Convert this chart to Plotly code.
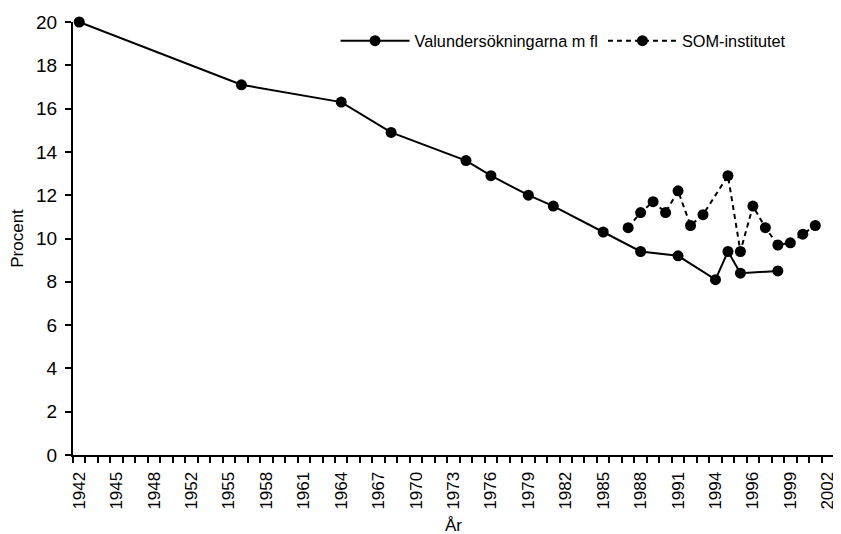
import plotly.graph_objects as go

# Category axis (one slot per survey year; labels shown every third slot)
categories = (
    [str(y) for y in range(1942, 1949)]
    + ["1950", "1951"]
    + [str(y) for y in range(1952, 1995)]
    + ["1994b"]
    + [str(y) for y in range(1995, 2003)]
)
shown_labels = ["1942", "1945", "1948", "1952", "1955", "1958", "1961", "1964", "1967",
                "1970", "1973", "1976", "1979", "1982", "1985", "1988", "1991", "1994",
                "1996", "1999", "2002"]

valu_years = ["1942", "1956", "1964", "1968", "1974", "1976", "1979", "1981", "1985",
              "1988", "1991", "1994", "1994b", "1995", "1998"]
valu_values = [20.0, 17.1, 16.3, 14.9, 13.6, 12.9, 12.0, 11.5, 10.3,
               9.4, 9.2, 8.1, 9.4, 8.4, 8.5]

som_years = ["1987", "1988", "1989", "1990", "1991", "1992", "1993", "1994b", "1995",
             "1996", "1997", "1998", "1999", "2000", "2001"]
som_values = [10.5, 11.2, 11.7, 11.2, 12.2, 10.6, 11.1, 12.9, 9.4,
              11.5, 10.5, 9.7, 9.8, 10.2, 10.6]

ticktext = [c if c in shown_labels else "" for c in categories]

FONT = "Liberation Sans, Arial, sans-serif"

fig = go.Figure()
fig.add_trace(go.Scatter(
    x=valu_years, y=valu_values, name="Valundersökningarna m fl",
    mode="lines+markers",
    line=dict(color="black", width=2),
    marker=dict(color="black", size=11),
    cliponaxis=False,
))
fig.add_trace(go.Scatter(
    x=som_years, y=som_values, name="SOM-institutet",
    mode="lines+markers",
    line=dict(color="black", width=2, dash="5px,4px"),
    marker=dict(color="black", size=11),
    cliponaxis=False,
))

# page body adds an 8px offset; figure size/margins compensate for it
fig.update_layout(
    width=833, height=526,
    margin=dict(l=65, r=7, t=14, b=79),
    paper_bgcolor="white", plot_bgcolor="white",
    font=dict(family=FONT, size=17, color="black"),
    showlegend=True,
    legend=dict(
        orientation="h", x=0.345, xanchor="left", y=0.956, yanchor="middle",
        bgcolor="rgba(0,0,0,0)", font=dict(size=16.3), itemwidth=69,
        tracegroupgap=0,
    ),
    annotations=[dict(
        text="År", xref="paper", yref="paper", x=0.5, y=-0.163,
        xanchor="center", yanchor="middle", showarrow=False,
        font=dict(size=17),
    )],
)
fig.update_xaxes(
    type="category", categoryorder="array", categoryarray=categories,
    range=[-0.5, len(categories) - 0.5],
    tickmode="array", tickvals=categories, ticktext=ticktext,
    tickson="boundaries", ticks="outside", ticklen=6, tickwidth=2, tickcolor="black",
    tickangle=-90, tickfont=dict(size=17), ticklabelstandoff=8,
    showline=True, linecolor="black", linewidth=2,
    showgrid=False, zeroline=False, automargin=False,
)
fig.update_yaxes(
    range=[0, 20], dtick=2, tick0=0,
    ticks="outside", ticklen=6, tickwidth=2, tickcolor="black",
    tickfont=dict(size=19), ticklabelstandoff=4,
    showline=True, linecolor="black", linewidth=2,
    showgrid=False, zeroline=False, automargin=False,
    title=dict(text="Procent", font=dict(size=17), standoff=8),
)

fig.write_html("out.html")
